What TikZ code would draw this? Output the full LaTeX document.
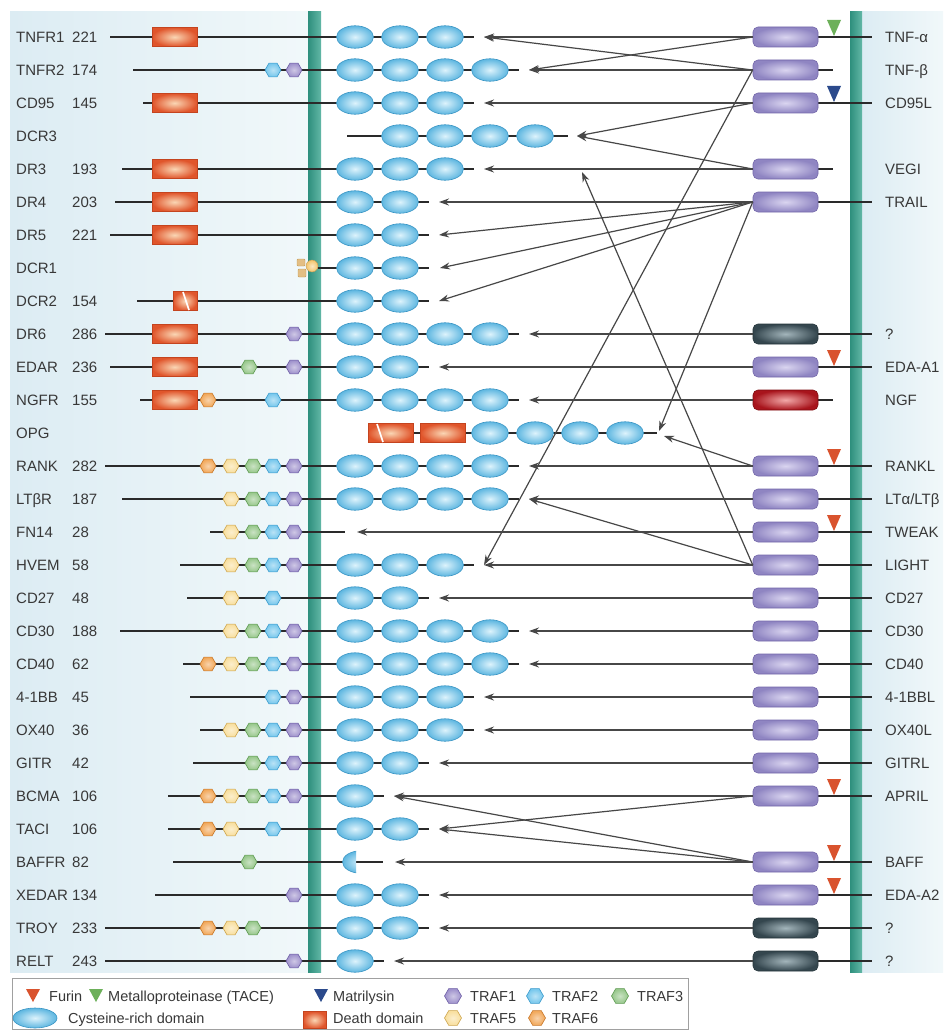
\documentclass[tikz,border=0pt]{standalone}
\usepackage{fontspec}
\setmainfont{Liberation Sans}
\usetikzlibrary{shapes.geometric,arrows.meta}
\definecolor{bgA}{HTML}{DCECF3}
\definecolor{bgB}{HTML}{F1F8FA}
\definecolor{memA}{HTML}{2E8F7D}
\definecolor{memB}{HTML}{62B7A6}
\definecolor{linec}{HTML}{2A2A2A}
\definecolor{arrc}{HTML}{474747}
\definecolor{labc}{HTML}{383838}
\definecolor{crdO}{HTML}{5DB6E0}
\definecolor{crdI}{HTML}{DDF3FC}
\definecolor{crdD}{HTML}{3A95C4}
\definecolor{ddO}{HTML}{E0552B}
\definecolor{ddI}{HTML}{FAD6B4}
\definecolor{ddD}{HTML}{C4441F}
\definecolor{ligO}{HTML}{8F85C2}
\definecolor{ligI}{HTML}{DAD5F0}
\definecolor{ligD}{HTML}{7468AA}
\definecolor{darkO}{HTML}{34464E}
\definecolor{darkI}{HTML}{A3B5BB}
\definecolor{darkD}{HTML}{26363C}
\definecolor{ngfO}{HTML}{A8141C}
\definecolor{ngfI}{HTML}{F2A8A8}
\definecolor{ngfD}{HTML}{7E0E12}
\definecolor{tAf}{HTML}{9D90CB}\definecolor{tAd}{HTML}{6E5FA6}
\definecolor{tBf}{HTML}{74C6EC}\definecolor{tBd}{HTML}{3C9BCC}
\definecolor{tCf}{HTML}{95C689}\definecolor{tCd}{HTML}{5E9A52}
\definecolor{tEf}{HTML}{F8DE9C}\definecolor{tEd}{HTML}{CDA54E}
\definecolor{tFf}{HTML}{F1A657}\definecolor{tFd}{HTML}{C7772A}
\definecolor{triR}{HTML}{D9532E}
\definecolor{triG}{HTML}{6DB05A}
\definecolor{triB}{HTML}{2B4A8C}
\definecolor{gpiA}{HTML}{F2C46A}
\definecolor{gpiB}{HTML}{E3BE84}
\definecolor{gpiD}{HTML}{C29A55}
\definecolor{legc}{HTML}{A0A0A0}

% receptor: id, name, number, y, start x, number of CRDs
\newcommand\Rcpt[6]{%
  \node[lab] (nm#1) at (16,#4+5.4) {#2};
  \node[lab] (nb#1) at (72,#4+5.4) {#3};
  \draw[rline] (#5,#4) -- ({355+45*(#6-1)+29},#4);
  \foreach \k in {1,...,#6} {\node[crd] (e#1-\k) at ({355+45*(\k-1)},#4) {};}
  \coordinate (R#1) at ({355+45*(#6-1)+39},#4);
}
% hexagon: style, y, x
\newcommand\Hx[3]{\node[#1] (h#2-#3) at (#3,#2) {};}
% ligand: id, name, y, style, line end x
\newcommand\Lig[5]{%
  \draw[rline] (818,#3) -- (#5,#3);
  \node[#4] (L#1) at (785.5,#3) {};
  \node[lab] (ln#1) at (885,#3+5.4) {#2};
}
% cleavage triangle: colour, y
\newcommand\Tri[2]{\fill[#1] (827,#2-17) -- (841,#2-17) -- (834,#2-1) -- cycle;}

\begin{document}
\begin{tikzpicture}[x=1pt,y=-1pt,
 lab/.style={anchor=base west,inner sep=0pt,font=\fontsize{15}{17}\selectfont,text=labc},
 leg/.style={lab,font=\fontsize{14.5}{17}\selectfont},
 rline/.style={draw=linec,line width=1.5pt},
 crd/.style={ellipse,minimum width=37pt,minimum height=22.5pt,inner sep=0pt,draw=crdD,line width=0.6pt,inner color=crdI,outer color=crdO},
 dd/.style={rectangle,minimum width=45pt,minimum height=19pt,inner sep=0pt,draw=ddD,line width=0.5pt,inner color=ddI,outer color=ddO},
 hex/.style={regular polygon,regular polygon sides=6,minimum size=16pt,inner sep=0pt,line width=0.6pt},
 tA/.style={hex,draw=tAd,inner color=tAf!50!white,outer color=tAf},
 tB/.style={hex,draw=tBd,inner color=tBf!50!white,outer color=tBf},
 tC/.style={hex,draw=tCd,inner color=tCf!50!white,outer color=tCf},
 tE/.style={hex,draw=tEd,inner color=tEf!50!white,outer color=tEf},
 tF/.style={hex,draw=tFd,inner color=tFf!50!white,outer color=tFf},
 lig/.style={rectangle,rounded corners=5pt,minimum width=65pt,minimum height=20pt,inner sep=0pt,line width=0.6pt},
 ligP/.style={lig,draw=ligD,inner color=ligI,outer color=ligO},
 ligK/.style={lig,draw=darkD,inner color=darkI,outer color=darkO},
 ligR/.style={lig,draw=ngfD,inner color=ngfI,outer color=ngfO},
 arr/.style={draw=arrc,line width=1.2pt,-{Stealth[length=10pt,width=7pt]}},
 slash/.style={draw=white,line width=1.6pt},
]
\useasboundingbox (0,0) rectangle (943,1030);
\fill[white] (0,0) rectangle (943,1030);
% panels and membranes
\shade[left color=bgA,right color=bgB] (10,12) rectangle (308,972);
\shade[left color=bgA,right color=bgB] (862,12) rectangle (943,972);
\shade[left color=memA,right color=memB] (308,12) rectangle (321,972);
\shade[left color=memA,right color=memB] (850,12) rectangle (862,972);

% ---------------- receptors ----------------
\Rcpt{0}{TNFR1}{221}{37}{110}{3}
\node[dd] (dd0) at (174.5,37) {};
\Rcpt{1}{TNFR2}{174}{70}{133}{4}
\Hx{tB}{70}{273}\Hx{tA}{70}{294}
\Rcpt{2}{CD95}{145}{103}{143}{3}
\node[dd] (dd2) at (174.5,103) {};
% DCR3 (soluble)
\node[lab] (nm3) at (16,141.4) {DCR3};
\draw[rline] (347,136) -- (568,136);
\foreach \k in {0,1,2,3} {\node[crd] (e3-\k) at (400+45*\k,136) {};}
\coordinate (R3) at (577,136);
\coordinate (R3b) at (582,172);
\Rcpt{4}{DR3}{193}{169}{122}{3}
\node[dd] (dd4) at (174.5,169) {};
\Rcpt{5}{DR4}{203}{202}{115}{2}
\node[dd] (dd5) at (174.5,202) {};
\Rcpt{6}{DR5}{221}{235}{110}{2}
\node[dd] (dd6) at (174.5,235) {};
% DCR1 (GPI anchored)
\node[lab] (nm7) at (16,273.4) {DCR1};
\draw[rline] (318,268) -- (429,268);
\foreach \k in {0,1} {\node[crd] (e7-\k) at (355+45*\k,268) {};}
\coordinate (R7) at (440,268);
\fill[gpiB,draw=gpiD,line width=0.4pt,rounded corners=1pt] (297,259) rectangle (305,266);
\fill[gpiB,draw=gpiD,line width=0.4pt,rounded corners=1pt] (298,269) rectangle (306,277);
\node[circle,minimum size=12pt,inner sep=0pt,inner color=gpiA!40!white,outer color=gpiA,draw=gpiD,line width=0.4pt] (gpi) at (312,266) {};
% DCR2
\Rcpt{8}{DCR2}{154}{301}{137}{2}
\node[rectangle,minimum width=24pt,minimum height=19pt,inner sep=0pt,draw=ddD,line width=0.5pt,inner color=ddI,outer color=ddO] (dd8) at (185,301) {};
\draw[slash] (183,292) -- (189,310);
\Rcpt{9}{DR6}{286}{334}{105}{4}
\node[dd] (dd9) at (174.5,334) {};
\Hx{tA}{334}{294}
\Rcpt{10}{EDAR}{236}{367}{110}{2}
\node[dd] (dd10) at (174.5,367) {};
\Hx{tC}{367}{249}\Hx{tA}{367}{294}
\Rcpt{11}{NGFR}{155}{400}{140}{4}
\node[dd] (dd11) at (174.5,400) {};
\Hx{tF}{400}{208}\Hx{tB}{400}{273}
% OPG (soluble)
\node[lab] (nm12) at (16,438.4) {OPG};
\draw[rline] (413,433) -- (657,433);
\node[dd] (dd12a) at (390.5,433) {};
\node[dd] (dd12b) at (443,433) {};
\draw[slash] (377,424) -- (383,442);
\foreach \k in {0,1,2,3} {\node[crd] (e12-\k) at (490+45*\k,433) {};}
\coordinate (R12a) at (659,431);
\coordinate (R12b) at (664,436);
\Rcpt{13}{RANK}{282}{466}{105}{4}
\Hx{tF}{466}{208}\Hx{tE}{466}{231}\Hx{tC}{466}{253}\Hx{tB}{466}{273}\Hx{tA}{466}{294}
\Rcpt{14}{LTβR}{187}{499}{122}{4}
\draw[rline,line width=2.3pt] (122,499) -- (336,499);
\Hx{tE}{499}{231}\Hx{tC}{499}{253}\Hx{tB}{499}{273}\Hx{tA}{499}{294}
% FN14
\node[lab] (nm15) at (16,537.4) {FN14};
\node[lab] (nb15) at (72,537.4) {28};
\draw[rline] (210,532) -- (345,532);
\coordinate (R15) at (357,532);
\Hx{tE}{532}{231}\Hx{tC}{532}{253}\Hx{tB}{532}{273}\Hx{tA}{532}{294}
\Rcpt{16}{HVEM}{58}{565}{180}{3}
\Hx{tE}{565}{231}\Hx{tC}{565}{253}\Hx{tB}{565}{273}\Hx{tA}{565}{294}
\Rcpt{17}{CD27}{48}{598}{187}{2}
\Hx{tE}{598}{231}\Hx{tB}{598}{273}
\Rcpt{18}{CD30}{188}{631}{120}{4}
\Hx{tE}{631}{231}\Hx{tC}{631}{253}\Hx{tB}{631}{273}\Hx{tA}{631}{294}
\Rcpt{19}{CD40}{62}{664}{183}{4}
\Hx{tF}{664}{208}\Hx{tE}{664}{231}\Hx{tC}{664}{253}\Hx{tB}{664}{273}\Hx{tA}{664}{294}
\Rcpt{20}{4-1BB}{45}{697}{190}{3}
\Hx{tB}{697}{273}\Hx{tA}{697}{294}
\Rcpt{21}{OX40}{36}{730}{200}{3}
\Hx{tE}{730}{231}\Hx{tC}{730}{253}\Hx{tB}{730}{273}\Hx{tA}{730}{294}
\Rcpt{22}{GITR}{42}{763}{193}{2}
\Hx{tC}{763}{253}\Hx{tB}{763}{273}\Hx{tA}{763}{294}
\Rcpt{23}{BCMA}{106}{796}{168}{1}
\Hx{tF}{796}{208}\Hx{tE}{796}{231}\Hx{tC}{796}{253}\Hx{tB}{796}{273}\Hx{tA}{796}{294}
\Rcpt{24}{TACI}{106}{829}{168}{2}
\Hx{tF}{829}{208}\Hx{tE}{829}{231}\Hx{tB}{829}{273}
% BAFFR (partial CRD)
\node[lab] (nm25) at (16,867.4) {BAFFR};
\node[lab] (nb25) at (72,867.4) {82};
\draw[rline] (173,862) -- (383,862);
\begin{scope}
\clip (330,848) rectangle (356,877);
\node[crd] (e25) at (361,862) {};
\end{scope}
\coordinate (R25) at (395,862);
\Hx{tC}{862}{249}
\Rcpt{26}{XEDAR}{134}{895}{155}{2}
\Hx{tA}{895}{294}
\Rcpt{27}{TROY}{233}{928}{105}{2}
\Hx{tF}{928}{208}\Hx{tE}{928}{231}\Hx{tC}{928}{253}
\Rcpt{28}{RELT}{243}{961}{105}{1}
\Hx{tA}{961}{294}

% ---------------- ligands ----------------
\Lig{0}{TNF-α}{37}{ligP}{872}
\Lig{1}{TNF-β}{70}{ligP}{833}
\Lig{2}{CD95L}{103}{ligP}{872}
\Lig{4}{VEGI}{169}{ligP}{833}
\Lig{5}{TRAIL}{202}{ligP}{872}
\Lig{9}{?}{334}{ligK}{872}
\Lig{10}{EDA-A1}{367}{ligP}{872}
\Lig{11}{NGF}{400}{ligR}{833}
\Lig{13}{RANKL}{466}{ligP}{872}
\draw[rline,line width=2.3pt] (818,499) -- (872,499);
\Lig{14}{LTα/LTβ}{499}{ligP}{872}
\Lig{15}{TWEAK}{532}{ligP}{872}
\Lig{16}{LIGHT}{565}{ligP}{872}
\Lig{17}{CD27}{598}{ligP}{872}
\Lig{18}{CD30}{631}{ligP}{872}
\Lig{19}{CD40}{664}{ligP}{872}
\Lig{20}{4-1BBL}{697}{ligP}{872}
\Lig{21}{OX40L}{730}{ligP}{872}
\Lig{22}{GITRL}{763}{ligP}{872}
\Lig{23}{APRIL}{796}{ligP}{872}
\Lig{25}{BAFF}{862}{ligP}{872}
\Lig{26}{EDA-A2}{895}{ligP}{872}
\Lig{27}{?}{928}{ligK}{872}
\Lig{28}{?}{961}{ligK}{872}
\Tri{triG}{37}
\Tri{triB}{103}
\Tri{triR}{367}
\Tri{triR}{466}
\Tri{triR}{532}
\Tri{triR}{796}
\Tri{triR}{862}
\Tri{triR}{895}

% ---------------- binding arrows ----------------
\draw[arr] (L0.west) -- (R0);
\draw[arr] (L0.west) -- (R1);
\draw[arr] (L1.west) -- (R0);
\draw[arr] (L1.west) -- (R1);
\draw[arr] (L1.west) -- (R16);
\draw[arr] (L2.west) -- (R2);
\draw[arr] (L2.west) -- (R3);
\draw[arr] (L4.west) -- (R4);
\draw[arr] (L4.west) -- (R3);
\draw[arr] (L5.west) -- (R5);
\draw[arr] (L5.west) -- (R6);
\draw[arr] (L5.west) -- (R7);
\draw[arr] (L5.west) -- (R8);
\draw[arr] (L5.west) -- (R12a);
\draw[arr] (L9.west) -- (R9);
\draw[arr] (L10.west) -- (R10);
\draw[arr] (L11.west) -- (R11);
\draw[arr] (L13.west) -- (R13);
\draw[arr] (L13.west) -- (R12b);
\draw[arr] (L14.west) -- (R14);
\draw[arr] (L15.west) -- (R15);
\draw[arr] (L16.west) -- (R16);
\draw[arr] (L16.west) -- (R14);
\draw[arr] (L16.west) -- (R3b);
\draw[arr] (L17.west) -- (R17);
\draw[arr] (L18.west) -- (R18);
\draw[arr] (L19.west) -- (R19);
\draw[arr] (L20.west) -- (R20);
\draw[arr] (L21.west) -- (R21);
\draw[arr] (L22.west) -- (R22);
\draw[arr] (L23.west) -- (R23);
\draw[arr] (L23.west) -- (R24);
\draw[arr] (L25.west) -- (R25);
\draw[arr] (L25.west) -- (R23);
\draw[arr] (L25.west) -- (R24);
\draw[arr] (L26.west) -- (R26);
\draw[arr] (L27.west) -- (R27);
\draw[arr] (L28.west) -- (R28);

% ---------------- legend ----------------
\draw[legc,line width=0.8pt] (12,978) rectangle (688,1029.5);
\fill[triR] (26,989) -- (40,989) -- (33,1002) -- cycle;
\node[leg] (lg1) at (49,1001.4) {Furin};
\fill[triG] (89,989) -- (103,989) -- (96,1002) -- cycle;
\node[leg] (lg2) at (108,1001.4) {Metalloproteinase (TACE)};
\fill[triB] (314,989) -- (328,989) -- (321,1002) -- cycle;
\node[leg] (lg3) at (333,1001.4) {Matrilysin};
\node[tA,minimum size=17pt] (lh1) at (453,996) {};
\node[leg] (lg4) at (470,1001.4) {TRAF1};
\node[tB,minimum size=17pt] (lh2) at (535,996) {};
\node[leg] (lg5) at (552,1001.4) {TRAF2};
\node[tC,minimum size=17pt] (lh3) at (620,996) {};
\node[leg] (lg6) at (637,1001.4) {TRAF3};
\node[crd,minimum width=44pt,minimum height=20pt] (le) at (35,1018) {};
\node[leg] (lg7) at (68,1023.4) {Cysteine-rich domain};
\node[dd,minimum width=23pt,minimum height=17pt] (ld) at (314.5,1020) {};
\node[leg] (lg8) at (333,1023.4) {Death domain};
\node[tE,minimum size=17pt] (lh5) at (453,1018) {};
\node[leg] (lg9) at (470,1023.4) {TRAF5};
\node[tF,minimum size=17pt] (lh6) at (537,1018) {};
\node[leg] (lg10) at (552,1023.4) {TRAF6};
\end{tikzpicture}
\end{document}
